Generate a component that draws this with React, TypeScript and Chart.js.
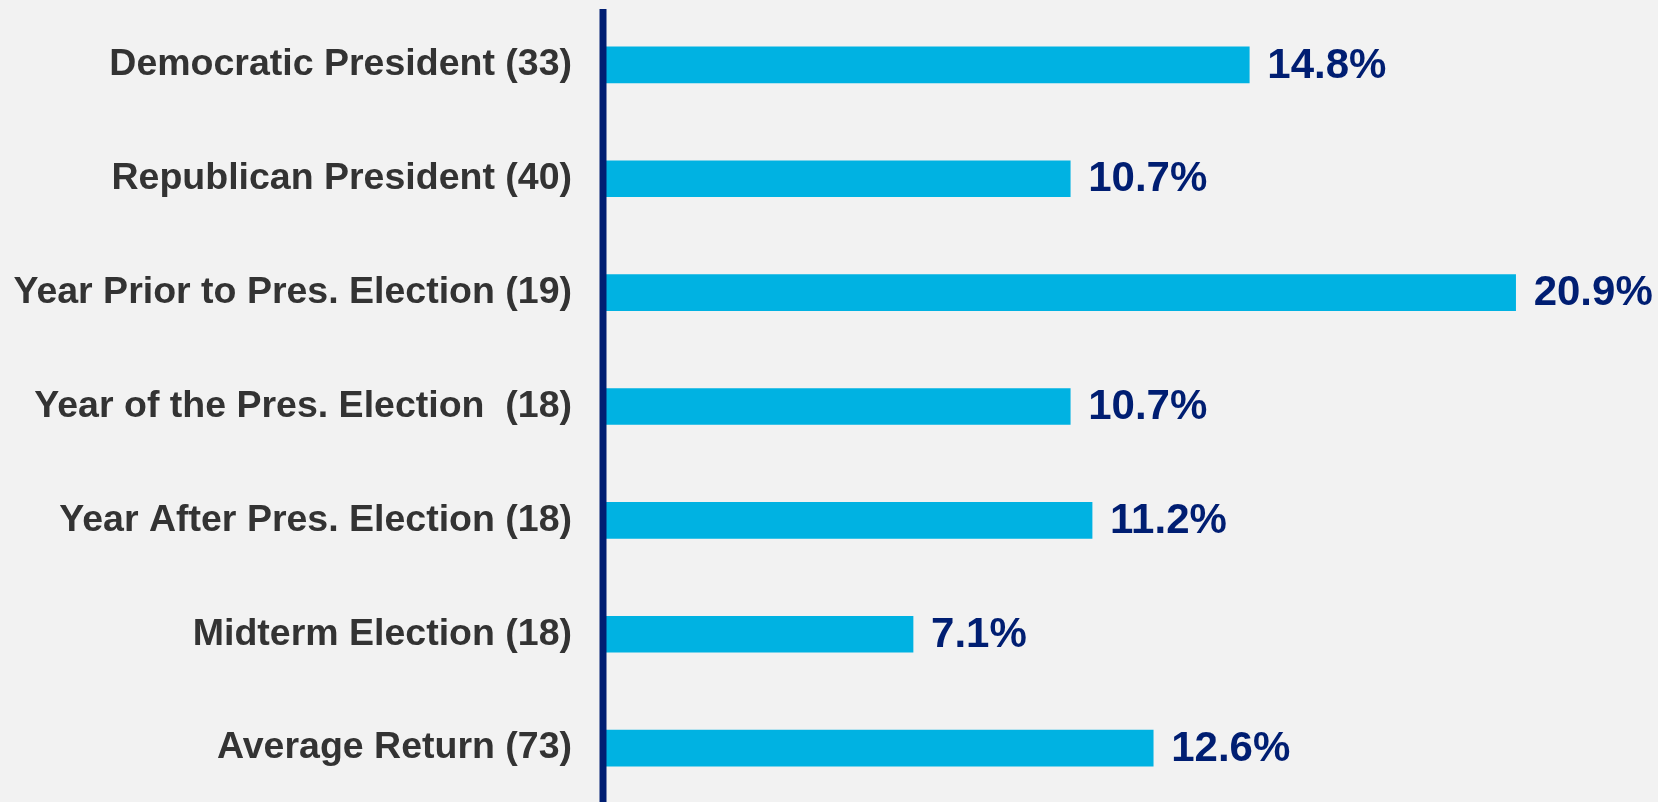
import React, { useEffect, useRef } from "react";
import { Chart, registerables } from "chart.js";

Chart.register(...registerables);

const categories = [
  "Democratic President (33)",
  "Republican President (40)",
  "Year Prior to Pres. Election (19)",
  "Year of the Pres. Election  (18)",
  "Year After Pres. Election (18)",
  "Midterm Election (18)",
  "Average Return (73)",
];

const returns = [14.8, 10.7, 20.9, 10.7, 11.2, 7.1, 12.6];

const BAR_COLOR = "#00b2e2";
const NAVY = "#001e72";
const LABEL_COLOR = "#333333";
const FONT = "'Liberation Sans', Arial, sans-serif";

const valueLabels = {
  id: "valueLabels",
  afterDatasetsDraw(chart: any) {
    const ctx = chart.ctx;
    const area = chart.chartArea;
    // vertical axis line
    ctx.save();
    ctx.strokeStyle = NAVY;
    ctx.lineWidth = 7;
    ctx.beginPath();
    ctx.moveTo(area.left, area.top + 1);
    ctx.lineTo(area.left, chart.height);
    ctx.stroke();
    ctx.restore();

    const meta = chart.getDatasetMeta(0);
    ctx.save();
    ctx.font = `bold 42px ${FONT}`;
    ctx.fillStyle = NAVY;
    ctx.textAlign = "left";
    ctx.textBaseline = "middle";
    meta.data.forEach((bar: any, i: number) => {
      const v = chart.data.datasets[0].data[i] as number;
      ctx.fillText(v.toFixed(1) + "%", bar.x + 18, bar.y + 1);
    });
    ctx.restore();
  },
};

export default function App() {
  const ref = useRef<HTMLCanvasElement | null>(null);

  useEffect(() => {
    if (!ref.current) return;
    const chart = new Chart(ref.current, {
      type: "bar",
      data: {
        labels: categories,
        datasets: [
          {
            data: returns,
            backgroundColor: BAR_COLOR,
            borderWidth: 0,
            barThickness: 36,
          },
        ],
      },
      options: {
        indexAxis: "y",
        animation: false,
        responsive: false,
        devicePixelRatio: 1,
        layout: { padding: { top: 8, bottom: 5, left: 0, right: 7 } },
        plugins: {
          legend: { display: false },
          tooltip: { enabled: false },
        },
        scales: {
          x: {
            display: false,
            min: 0,
            max: 24,
          },
          y: {
            afterFit: (scale: any) => {
              scale.width = 603;
              scale.paddingTop = 0;
              scale.paddingBottom = 0;
            },
            grid: { display: false, drawTicks: false },
            border: { display: false },
            ticks: {
              autoSkip: false,
              padding: 31,
              color: LABEL_COLOR,
              font: { family: FONT, size: 37.5, weight: "bold" },
            },
          },
        },
      },
      plugins: [valueLabels],
    });
    return () => chart.destroy();
  }, []);

  return (
    <div
      style={{
        position: "fixed",
        left: 0,
        top: 0,
        width: 1658,
        height: 802,
        overflow: "hidden",
        background: "#f2f2f2",
      }}
    >
      <canvas ref={ref} width={1658} height={810} style={{ display: "block" }} />
    </div>
  );
}
